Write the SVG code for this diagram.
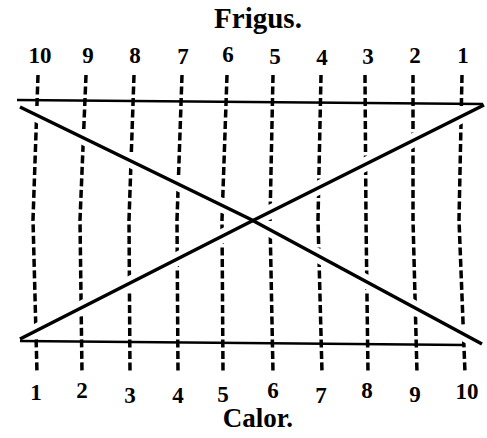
<svg xmlns="http://www.w3.org/2000/svg" width="487" height="438" viewBox="0 0 487 438">
<style>
.col{fill:none;stroke:#000;stroke-width:3.5;stroke-dasharray:8 3.5}
.halo{fill:none;stroke:#fff;stroke-width:14}
.diag{fill:none;stroke:#000;stroke-width:3.5}
.hor{fill:none;stroke:#000;stroke-width:2.5}
.num{font-family:"Liberation Serif",serif;font-weight:bold;font-size:23px;text-anchor:middle;fill:#000}
.title{font-family:"Liberation Serif",serif;font-weight:bold;text-anchor:middle;fill:#000}
</style>
<rect width="487" height="438" fill="#fff"/>
<g id="title-frigus"><text class="title" x="258" y="28" font-size="29">Frigus.</text></g>
<g id="title-calor"><text class="title" x="258" y="427" font-size="27">Calor.</text></g>
<g id="top-labels">
<text class="num" x="40" y="63">10</text>
<text class="num" x="88" y="63">9</text>
<text class="num" x="135" y="63">8</text>
<text class="num" x="183" y="64">7</text>
<text class="num" x="228" y="62">6</text>
<text class="num" x="275" y="64">5</text>
<text class="num" x="322" y="65">4</text>
<text class="num" x="368" y="64">3</text>
<text class="num" x="415" y="63">2</text>
<text class="num" x="463" y="63">1</text>
</g>
<g id="bottom-labels">
<text class="num" x="36" y="400">1</text>
<text class="num" x="82" y="398">2</text>
<text class="num" x="130" y="403">3</text>
<text class="num" x="178" y="403">4</text>
<text class="num" x="223" y="402">5</text>
<text class="num" x="273" y="398">6</text>
<text class="num" x="321" y="403">7</text>
<text class="num" x="367" y="398">8</text>
<text class="num" x="415" y="402">9</text>
<text class="num" x="467" y="399">10</text>
</g>
<g id="connectors">
<g id="columns">
<polyline class="col" points="38,75 33,220 37,373"/>
<polyline class="col" points="86,75 80,220 82,373"/>
<polyline class="col" points="134,75 129,220 130,373"/>
<polyline class="col" points="182,75 177,220 178,373"/>
<polyline class="col" points="227,75 222,220 223,373"/>
<polyline class="col" points="273,75 270,220 273,373"/>
<polyline class="col" points="321,75 318,220 322,373"/>
<polyline class="col" points="365,75 366,220 368,373"/>
<polyline class="col" points="413,75 413,220 417,373"/>
<polyline class="col" points="462,75 459,220 465,373"/>
</g>
<polyline class="halo" points="20,107 250,219 482,344"/>
<polyline class="halo" points="20,339 250,222 484,105"/>
<polyline id="diag-1" class="diag" points="20,107 250,219 482,344"/>
<polyline id="diag-2" class="diag" points="20,339 250,222 484,105"/>
<line id="top-line" class="hor" x1="17" y1="100" x2="483" y2="104"/>
<line id="bottom-line" class="hor" x1="20" y1="341" x2="465" y2="345"/>
</g>
</svg>
